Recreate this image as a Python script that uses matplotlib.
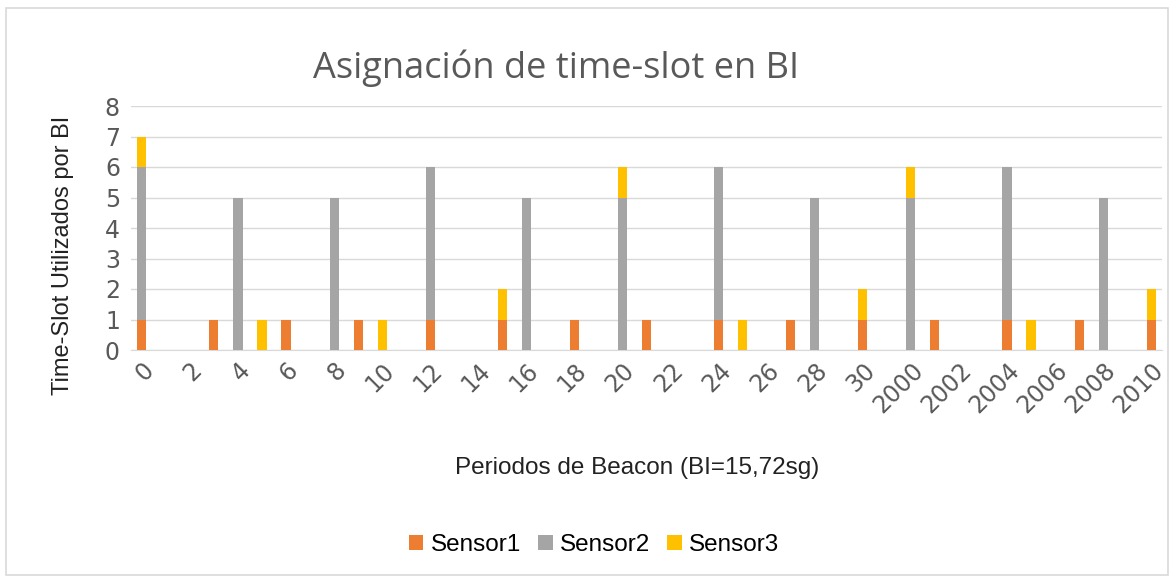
import matplotlib
matplotlib.use("Agg")
import matplotlib.pyplot as plt
from matplotlib.patches import Rectangle
import numpy as np

categories = [str(i) for i in range(32)] + [str(y) for y in range(2000, 2011)]
sensor1 = [1,0,0,1,0,0,1,0,0,1,0,0,1,0,0,1,0,0,1,0,0,1,0,0,1,0,0,1,0,0,1,0,
           0,1,0,0,1,0,0,1,0,0,1]
sensor2 = [5,0,0,0,5,0,0,0,5,0,0,0,5,0,0,0,5,0,0,0,5,0,0,0,5,0,0,0,5,0,0,0,
           5,0,0,0,5,0,0,0,5,0,0]
sensor3 = [1,0,0,0,0,1,0,0,0,0,1,0,0,0,0,1,0,0,0,0,1,0,0,0,0,1,0,0,0,0,1,0,
           1,0,0,0,0,1,0,0,0,0,1]
series_names = ["Sensor1", "Sensor2", "Sensor3"]
colors = ["#ED7D31", "#A5A5A5", "#FFC000"]

fig = plt.figure(figsize=(11.71, 5.77), dpi=100)
fig.patch.set_facecolor("white")
fig.add_artist(Rectangle((6/1171, 2/577), 1162/1171, 567/577, transform=fig.transFigure,
                         fill=False, edgecolor="#D9D9D9", linewidth=1.2))

ax = fig.add_axes([131/1171, 1-350/577, (1162-131)/1171, (350-106)/577])
x = np.arange(len(categories))
s1 = np.array(sensor1); s2 = np.array(sensor2); s3 = np.array(sensor3)
w = 0.38
ax.bar(x, s1, w, color=colors[0], label=series_names[0], zorder=3)
ax.bar(x, s2, w, bottom=s1, color=colors[1], label=series_names[1], zorder=3)
ax.bar(x, s3, w, bottom=s1+s2, color=colors[2], label=series_names[2], zorder=3)

ax.set_xlim(-0.45, len(categories)-0.55)
ax.set_ylim(0, 8)
ax.set_yticks(range(0, 9))
ax.grid(axis="y", color="#D9D9D9", linewidth=1.0, zorder=0)
for s in ["top", "right", "left"]:
    ax.spines[s].set_visible(False)
ax.spines["bottom"].set_color("#D9D9D9")
ax.tick_params(axis="both", length=0, colors="#595959", labelsize=17)
ax.tick_params(axis="y", pad=8)
ax.tick_params(axis="x", pad=6)
ax.set_xticks(x[::2])
ax.set_xticklabels(categories[::2], rotation=45, ha="right", rotation_mode="anchor",
                   fontfamily="DejaVu Sans")
for lab in ax.get_yticklabels():
    lab.set_fontfamily("DejaVu Sans")

fig.text(556/1171, 1-68/577, "Asignación de time-slot en BI", ha="center", va="center",
         fontsize=26, color="#595959", fontfamily="Open Sans")
fig.text(63/1171, 1-255/577, "Time-Slot Utilizados por BI", rotation=90, ha="center", va="center",
         fontsize=17, color="#222222", fontfamily="Liberation Sans")
fig.text(637/1171, 1-468/577, "Periodos de Beacon (BI=15,72sg)", ha="center", va="center",
         fontsize=17.5, color="#222222", fontfamily="Liberation Sans")

handles, labels = ax.get_legend_handles_labels()
fig.legend(handles, labels, loc="center", bbox_to_anchor=(594/1171, 1-545/577), ncol=3,
           frameon=False, prop={"family": "Liberation Sans", "size": 17.5},
           handlelength=0.6, handleheight=0.6, handletextpad=0.3, columnspacing=0.7)

fig.savefig("out.png", dpi=100)
